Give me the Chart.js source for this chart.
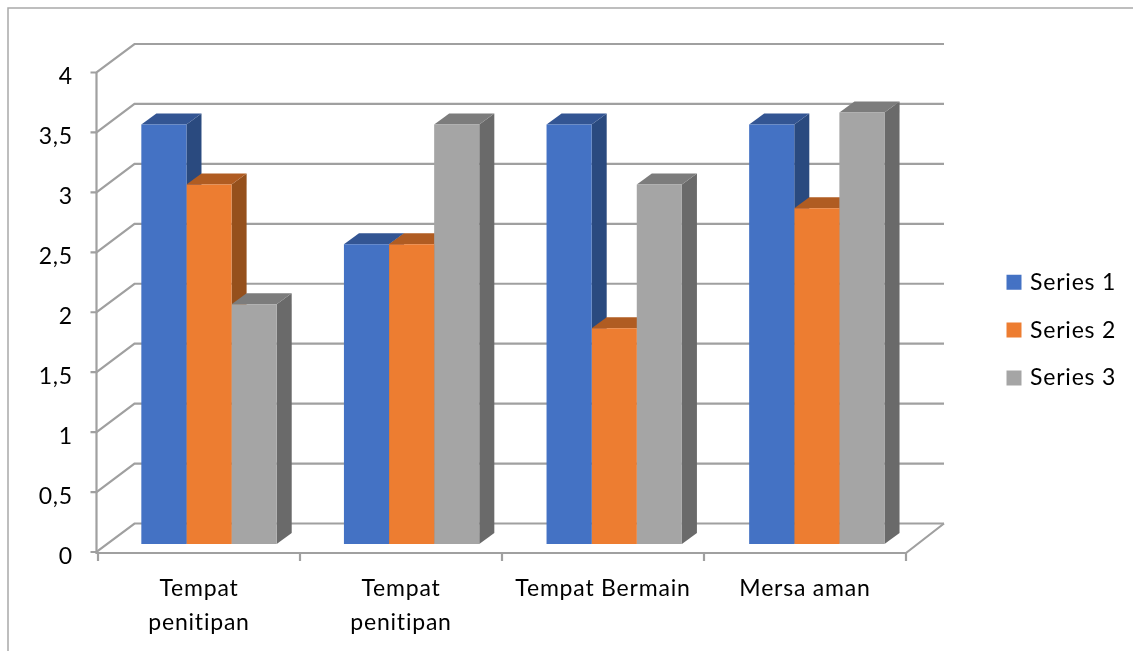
<!DOCTYPE html>
<html><head><meta charset="utf-8">
<style>html,body{margin:0;padding:0;background:#fff}#w{width:1133px;height:651px;position:relative}canvas{display:block;filter:blur(0.4px)}</style>
<script src="https://cdn.jsdelivr.net/npm/chart.js@4"></script>
</head><body><div id="w"><canvas id="c" width="1133" height="651"></canvas></div>
<script>
const categories = [["Tempat","penitipan"],["Tempat","penitipan"],"Tempat Bermain","Mersa aman"];
const series1 = [3.5,2.5,3.5,3.5];
const series2 = [3,2.5,1.8,2.8];
const series3 = [2,3.5,3,3.6];
const seriesNames = ["Series 1","Series 2","Series 3"];
const frontColors = ["#4472C4","#ED7D31","#A5A5A5"];
const topColors = ["#335593","#B05C22","#7C7C7C"];
const sideColors = ["#2A4A7F","#95501C","#6A6A6A"];
const FONT = "Lato, sans-serif";
const FS = 23;
const LINE = "#a0a0a0";
const DEPTH = {x:15, y:11};      // bar depth
const WALL = {x:38, y:28.5};     // wall depth
const BAR = {dx:10, dy:-8, k:1.003, cx:199};

function barTransform(c){
  c.translate(BAR.dx+BAR.cx,BAR.dy); c.scale(BAR.k,1); c.translate(-BAR.cx,0);
}

const threeD = {
  id:'threeD',
  beforeDraw(chart){
    const c = chart.ctx;
    c.letterSpacing = '0.8px';
    const ys = chart.scales.y;
    if(!ys._shifted){
      const o = ys.drawLabels;
      ys.drawLabels = function(a){c.save();c.translate(0,4.5);o.call(this,a);c.restore();};
      ys._shifted = true;
    }
    c.save();
    c.strokeStyle = '#a9a9a9'; c.lineWidth = 1.5;
    c.beginPath(); c.moveTo(8,651); c.lineTo(8,8); c.lineTo(1133,8); c.stroke();
    c.restore();
  },
  beforeDatasetsDraw(chart){
    const c = chart.ctx, xs = chart.scales.x, ys = chart.scales.y, a = chart.chartArea;
    const half = (xs.getPixelForValue(1)-xs.getPixelForValue(0))/2;
    const L = a.left-1.5, R = a.right;
    c.save();
    c.strokeStyle = LINE; c.lineWidth = 2.2; c.lineCap='butt';
    ys.ticks.forEach(t=>{
      const y = ys.getPixelForValue(t.value);
      c.beginPath();
      c.moveTo(L-6,y); c.lineTo(L,y); c.lineTo(L+WALL.x,y-WALL.y); c.lineTo(R+WALL.x,y-WALL.y);
      c.stroke();
    });
    c.beginPath(); c.moveTo(L,ys.getPixelForValue(4)); c.lineTo(L,a.bottom+1); c.lineTo(R,a.bottom+1); c.lineTo(R+WALL.x,a.bottom-WALL.y); c.stroke();
    categories.forEach((_,i)=>{
      const x = xs.getPixelForValue(i)-half;
      c.beginPath(); c.moveTo(x,a.bottom+1); c.lineTo(x,a.bottom+9); c.stroke();
    });
    const xe = xs.getPixelForValue(categories.length-1)+half;
    c.beginPath(); c.moveTo(xe,a.bottom+1); c.lineTo(xe,a.bottom+9); c.stroke();
    c.restore();
    // tops and sides of all series, first to last, beneath every front face
    c.save();
    barTransform(c);
    seriesNames.forEach((_,i)=>{
      chart.getDatasetMeta(i).data.forEach(b=>{
        const l = b.x-b.width/2, r = b.x+b.width/2, t = b.y, bt = b.base;
        c.fillStyle = sideColors[i];
        c.beginPath(); c.moveTo(r,t); c.lineTo(r+DEPTH.x,t-DEPTH.y); c.lineTo(r+DEPTH.x,bt-DEPTH.y); c.lineTo(r,bt); c.closePath(); c.fill();
        c.fillStyle = topColors[i];
        c.beginPath(); c.moveTo(l,t); c.lineTo(l+DEPTH.x,t-DEPTH.y); c.lineTo(r+DEPTH.x,t-DEPTH.y); c.lineTo(r,t); c.closePath(); c.fill();
      });
    });
    c.restore();
  },
  beforeDatasetDraw(chart){
    const c = chart.ctx;
    c.save();
    barTransform(c);
  },
  afterDatasetDraw(chart){ chart.ctx.restore(); },
  afterLayout(chart){
    const lg = chart.legend;
    const w = lg.width, h = lg.height;
    lg.left = 1009.5-lg.options.labels.padding; lg.right = lg.left+w;
    lg.top = 246; lg.bottom = lg.top+h;
  }
};

new Chart(document.getElementById('c'),{
  type:'bar',
  data:{labels:categories,datasets:[
    {label:seriesNames[0],data:series1,backgroundColor:frontColors[0],clip:false},
    {label:seriesNames[1],data:series2,backgroundColor:frontColors[1],clip:false},
    {label:seriesNames[2],data:series3,backgroundColor:frontColors[2],clip:false}
  ]},
  options:{
    responsive:false,animation:false,
    layout:{padding:{left:8,right:227,top:72.5,bottom:0}},
    datasets:{bar:{categoryPercentage:0.668,barPercentage:1,borderWidth:0}},
    plugins:{
      tooltip:{enabled:false},
      legend:{display:true,position:'chartArea',align:'start',
        labels:{boxWidth:9,boxHeight:9,padding:24.8,color:'#000',font:{family:FONT,size:FS},
          generateLabels(chart){
            return Chart.defaults.plugins.legend.labels.generateLabels(chart)
              .map(i=>Object.assign(i,{lineWidth:6,strokeStyle:i.fillStyle}));
          }}}
    },
    scales:{
      x:{grid:{display:false},border:{display:false},
        ticks:{color:'#000',font:{family:FONT,size:FS,lineHeight:1.5},padding:11,maxRotation:0,autoSkip:false},
        afterFit(s){s.height=99;}},
      y:{min:0,max:4,grid:{display:false},border:{display:false},
        ticks:{stepSize:0.5,color:'#000',font:{family:FONT,size:FS},padding:17,
          callback:v=>String(v).replace('.',',')},
        afterFit(s){s.width=90;}}
    }
  },
  plugins:[threeD]
});
</script></body></html>
